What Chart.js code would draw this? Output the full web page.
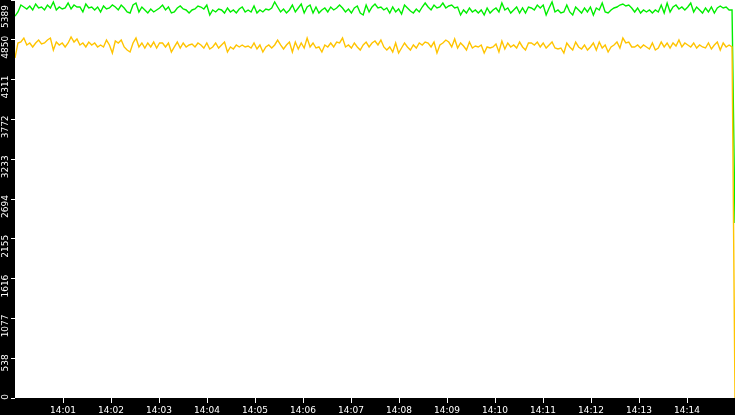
<!DOCTYPE html>
<html>
<head>
<meta charset="utf-8">
<script src="https://cdn.jsdelivr.net/npm/chart.js@4/dist/chart.umd.min.js"></script>
<style>
  html, body { margin: 0; padding: 0; background: #000; }
  #box { width: 735px; height: 415px; }
</style>
</head>
<body>
<div id="box"><canvas id="myChart" width="735" height="415"></canvas></div>
<script>
// y axis: 0 .. 5389, ten equal steps
var yMax = 5389
var yTicks = [0, 538, 1077, 1616, 2155, 2694, 3233, 3772, 4311, 4850, 5389]

// x axis: 14:00 .. 14:15, seconds from 14:00
var xSpan = 900
var xTickLabels = ["14:01","14:02","14:03","14:04","14:05","14:06","14:07","14:08","14:09","14:10","14:11","14:12","14:13","14:14"]

var green = [
  5170,5227,5321,5294,5267,5308,5254,5335,5281,5294,5254,5321,5281,5362,5254,5294,5267,5281,5348,5267,5321,5294,5294,5227,5335,5281,5294,5254,5294,5227,5308,5267,5281,5321,5294,
  5254,5321,5281,5227,5213,5321,5348,5227,5294,5254,5213,5267,5227,5254,5281,5321,5254,5294,5213,5227,5281,5308,5267,5254,5213,5254,5267,5308,5294,5267,5321,5186,5254,5227,5267,
  5254,5213,5281,5227,5254,5213,5267,5294,5227,5254,5227,5308,5213,5254,5227,5267,5254,5281,5362,5294,5227,5267,5213,5254,5321,5227,5281,5335,5213,5294,5321,5213,5294,5213,5254,
  5281,5227,5294,5254,5281,5321,5281,5227,5267,5213,5281,5308,5213,5186,5321,5227,5294,5335,5281,5294,5254,5281,5213,5294,5227,5267,5199,5321,5281,5240,5213,5267,5227,5294,5348,
  5294,5254,5321,5281,5294,5348,5281,5308,5321,5281,5294,5186,5254,5213,5281,5227,5254,5213,5254,5186,5281,5213,5254,5281,5227,5348,5254,5281,5213,5254,5294,5213,5281,5213,5294,
  5281,5254,5321,5281,5321,5186,5281,5362,5227,5254,5213,5227,5321,5227,5186,5294,5254,5213,5281,5227,5294,5186,5281,5254,5348,5227,5213,5254,5281,5294,5321,5335,5308,5321,5281,
  5227,5281,5213,5254,5227,5254,5213,5254,5227,5321,5213,5348,5227,5294,5321,5267,5294,5254,5294,5348,5227,5294,5254,5213,5281,5227,5294,5213,5281,5308,5281,5294,5254,5254,2370
]

var yellow = [
  4604,4807,4820,4874,4780,4807,4753,4807,4847,4793,4807,4847,4874,4712,4820,4780,4807,4753,4807,4888,4820,4861,4780,4807,4753,4820,4780,4807,4753,4780,4753,4847,4780,4671,4834,
  4807,4847,4753,4712,4685,4807,4874,4753,4807,4739,4807,4753,4820,4739,4807,4807,4753,4807,4685,4753,4820,4739,4807,4753,4780,4793,4753,4807,4780,4739,4807,4726,4753,4807,4739,
  4780,4820,4685,4753,4726,4780,4753,4780,4753,4766,4739,4807,4726,4780,4685,4753,4780,4739,4780,4847,4780,4726,4780,4820,4685,4820,4726,4807,4739,4874,4753,4807,4739,4753,4685,
  4780,4753,4807,4753,4820,4807,4874,4753,4780,4739,4807,4753,4712,4780,4820,4753,4807,4834,4780,4847,4753,4712,4753,4685,4807,4671,4739,4807,4753,4712,4780,4739,4807,4780,4820,
  4807,4753,4820,4671,4780,4807,4847,4820,4753,4861,4739,4807,4766,4712,4820,4739,4766,4753,4780,4671,4753,4739,4753,4793,4685,4834,4726,4807,4753,4780,4739,4820,4753,4712,4807,
  4807,4780,4820,4753,4807,4739,4780,4820,4739,4726,4739,4671,4807,4753,4712,4820,4753,4726,4780,4712,4753,4807,4712,4820,4739,4780,4685,4753,4780,4820,4739,4874,4807,4820,4753,
  4753,4780,4739,4780,4753,4726,4807,4712,4739,4820,4753,4807,4739,4807,4766,4847,4753,4807,4780,4753,4807,4739,4780,4753,4739,4807,4726,4780,4820,4712,4807,4753,4780,4753,0
]

function toPoints(arr){
    var step = xSpan / (arr.length - 1)
    return arr.map(function(v, i){ return {x: i * step, y: v} })
}

var white_area = {
    id: 'white_area',
    beforeDraw: function(chart){
        var a = chart.chartArea, ctx = chart.ctx
        ctx.save()
        ctx.fillStyle = '#000'
        ctx.fillRect(0, 0, chart.width, chart.height)
        ctx.fillStyle = '#fff'
        ctx.fillRect(a.left, a.top, a.right - a.left, a.bottom - a.top)
        ctx.restore()
    }
}

// rotated y labels, end of text just above the tick, kept inside the canvas
var y_labels = {
    id: 'y_labels',
    afterDraw: function(chart){
        var s = chart.scales.y, ctx = chart.ctx
        ctx.save()
        ctx.fillStyle = '#fff'
        ctx.font = '9px "DejaVu Sans"'
        ctx.textAlign = 'right'
        ctx.textBaseline = 'middle'
        yTicks.forEach(function(v){
            var py = Math.max(s.getPixelForValue(v) - 4, 5)
            ctx.save()
            ctx.translate(5.5, py)
            ctx.rotate(-Math.PI / 2)
            ctx.fillText(String(v), 0, 0)
            ctx.restore()
        })
        ctx.restore()
    }
}

var myChart = document.getElementById("myChart").getContext('2d')

var chart = new Chart(myChart, {
    type: 'line',
    data: {
        datasets: [
            {
                label: "B",
                data: toPoints(yellow),
                borderColor: "#ffc400",
                borderWidth: 1.4,
                pointRadius: 0,
                tension: 0,
                fill: false
            },
            {
                label: "A",
                data: toPoints(green),
                borderColor: "#00ee00",
                borderWidth: 1.4,
                pointRadius: 0,
                tension: 0,
                fill: false
            }
        ]
    },
    options: {
        responsive: false,
        animation: false,
        events: [],
        layout: { padding: 0 },
        plugins: { legend: { display: false }, tooltip: { enabled: false } },
        scales: {
            x: {
                type: 'linear',
                min: 0,
                max: xSpan,
                border: { display: false },
                grid: { drawOnChartArea: false, drawTicks: true, tickLength: 5, tickColor: '#fff', lineWidth: 1 },
                ticks: {
                    color: '#fff',
                    font: { family: 'DejaVu Sans', size: 9 },
                    padding: 2,
                    maxRotation: 0,
                    autoSkip: false,
                    callback: function(v){ return xTickLabels[Math.round(v / 60) - 1] }
                },
                afterBuildTicks: function(s){
                    s.ticks = xTickLabels.map(function(l, i){ return {value: (i + 1) * 60} })
                },
                afterFit: function(s){ s.height = 17; s.paddingLeft = 0; s.paddingRight = 0 }
            },
            y: {
                type: 'linear',
                min: 0,
                max: yMax,
                border: { display: false },
                grid: { drawOnChartArea: false, drawTicks: true, tickLength: 4, tickColor: '#fff', lineWidth: 1 },
                ticks: { display: false },
                afterBuildTicks: function(s){
                    s.ticks = yTicks.map(function(v){ return {value: v} })
                },
                afterFit: function(s){ s.width = 15; s.paddingTop = 0; s.paddingBottom = 0 }
            }
        }
    },
    plugins: [white_area, y_labels]
})
</script>
</body>
</html>
